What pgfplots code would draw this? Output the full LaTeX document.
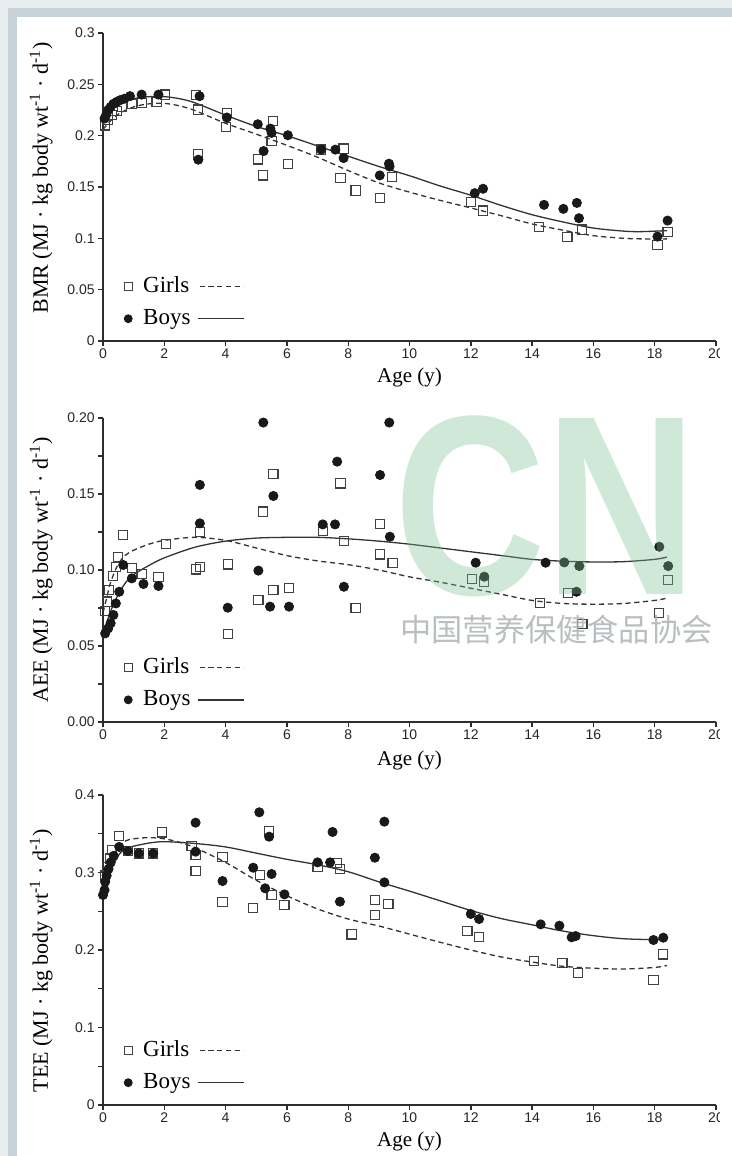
\documentclass[border=0pt]{standalone}
\usepackage{pgfplots}
\pgfplotsset{compat=1.18}
\usepackage{pgfplotstable}
\usepackage{fontspec}
\setmainfont{Liberation Serif}
\setsansfont{Liberation Sans}
\newfontfamily\cjk{Noto Sans CJK SC}
\definecolor{frameband}{RGB}{198,210,214}
\definecolor{framelight}{RGB}{232,238,240}
\definecolor{wmgreen}{RGB}{120,190,145}
\definecolor{wmgray}{RGB}{168,175,177}
\definecolor{ink}{RGB}{25,25,25}
\definecolor{axcol}{RGB}{45,45,45}

% ---------------- BMR ----------------
\pgfplotstableread{
x y
0.07 0.210
0.15 0.215
0.28 0.220
0.45 0.224
0.61 0.228
0.94 0.2307
1.26 0.232
1.75 0.233
2.03 0.240
3.04 0.2395
3.11 0.2254
3.11 0.1818
4.04 0.2222
4.02 0.2085
5.05 0.1769
5.22 0.1613
5.54 0.2144
5.50 0.1948
6.03 0.1727
7.12 0.1864
7.85 0.1874
7.75 0.159
8.24 0.1466
9.03 0.139
9.43 0.1597
12.0 0.1352
12.4 0.127
14.22 0.1108
15.15 0.101
15.62 0.1085
18.09 0.0935
18.42 0.1059
}\bmrgirls
\pgfplotstableread{
x y
0.05 0.2167
0.10 0.220
0.17 0.225
0.25 0.228
0.34 0.231
0.45 0.233
0.56 0.2346
0.70 0.236
0.88 0.2385
1.26 0.240
1.81 0.240
3.15 0.2385
3.11 0.1766
4.04 0.2177
5.05 0.2111
5.24 0.185
5.46 0.2069
5.50 0.2027
6.03 0.2004
7.12 0.1864
7.58 0.1864
7.85 0.1782
9.03 0.1613
9.33 0.1727
9.35 0.170
12.13 0.144
12.4 0.1483
14.39 0.1326
15.02 0.1287
15.46 0.1345
15.53 0.1196
18.09 0.1017
18.42 0.1173
}\bmrboys
\pgfplotstableread{
x y
0 0.206
0.2 0.213
0.5 0.221
1.0 0.228
1.5 0.231
2.0 0.2315
2.5 0.229
3.0 0.2245
4.0 0.212
5.0 0.2015
6.0 0.1906
7.0 0.179
8.0 0.166
9.0 0.154
10.0 0.145
11.0 0.137
12.0 0.1296
13.0 0.122
14.0 0.114
15.0 0.108
16.0 0.1026
17.0 0.1000
17.5 0.0995
18.0 0.0993
18.4 0.0995
}\bmrgirlsfit
\pgfplotstableread{
x y
0 0.214
0.2 0.222
0.5 0.230
1.0 0.236
1.5 0.238
2.0 0.238
2.5 0.236
3.0 0.232
4.0 0.220
5.0 0.209
6.0 0.200
7.0 0.190
8.0 0.180
9.0 0.170
10.0 0.161
11.0 0.151
12.0 0.142
13.0 0.132
14.0 0.123
15.0 0.116
16.0 0.110
17.0 0.107
17.5 0.1065
18.0 0.107
18.4 0.1075
}\bmrboysfit

% ---------------- AEE ----------------
\pgfplotstableread{
x y
0.07 0.0732
0.13 0.0792
0.20 0.0868
0.32 0.096
0.42 0.1022
0.50 0.1083
0.66 0.123
0.94 0.1015
1.26 0.0974
1.81 0.0956
2.06 0.1171
3.03 0.1004
3.16 0.1022
3.16 0.1252
4.07 0.1037
4.07 0.0577
5.07 0.0803
5.23 0.1384
5.56 0.1632
5.56 0.0868
6.07 0.088
7.17 0.1257
7.75 0.157
7.86 0.1191
8.24 0.0748
9.04 0.1303
9.04 0.1103
9.45 0.1044
12.03 0.0939
12.44 0.0923
14.26 0.0785
15.16 0.0851
15.64 0.0645
18.15 0.0715
18.44 0.0934
}\aeegirls
\pgfplotstableread{
x y
0.07 0.0583
0.17 0.0616
0.25 0.065
0.34 0.0704
0.42 0.078
0.53 0.0857
0.66 0.1033
0.94 0.0945
1.32 0.0908
1.81 0.0895
3.16 0.156
3.16 0.1307
4.07 0.0752
5.07 0.0996
5.23 0.197
5.45 0.0759
5.56 0.1487
6.07 0.0759
7.17 0.130
7.57 0.130
7.64 0.1713
7.86 0.089
9.04 0.1625
9.34 0.197
9.36 0.1219
12.16 0.1048
12.44 0.0956
14.44 0.1048
15.05 0.1050
15.45 0.0857
15.54 0.1026
18.15 0.1153
18.44 0.1026
}\aeeboys
\pgfplotstableread{
x y
0 0.072
0.1 0.080
0.25 0.092
0.5 0.104
0.75 0.110
1.0 0.113
1.5 0.117
2.0 0.1195
3.0 0.1215
4.0 0.1195
5.0 0.1145
6.0 0.1095
7.0 0.106
8.0 0.1035
9.0 0.100
10.0 0.0955
11.0 0.092
12.0 0.088
13.0 0.084
14.0 0.080
15.0 0.078
16.0 0.0775
17.0 0.078
18.0 0.080
18.4 0.0815
}\aeegirlsfit
\pgfplotstableread{
x y
0 0.058
0.1 0.064
0.25 0.073
0.5 0.084
0.75 0.092
1.0 0.097
1.5 0.103
2.0 0.108
3.0 0.115
4.0 0.119
5.0 0.121
6.0 0.1215
7.0 0.1215
8.0 0.1205
9.0 0.119
10.0 0.117
11.0 0.1145
12.0 0.112
13.0 0.1095
14.0 0.107
15.0 0.1058
16.0 0.1053
17.0 0.1055
18.0 0.107
18.4 0.1085
}\aeeboysfit

% ---------------- TEE ----------------
\pgfplotstableread{
x y
0.07 0.296
0.12 0.307
0.22 0.318
0.30 0.329
0.53 0.3471
0.81 0.3277
1.17 0.3247
1.64 0.3247
1.92 0.3518
2.89 0.3342
3.02 0.3226
3.02 0.302
3.90 0.3204
3.90 0.2624
4.90 0.2546
5.12 0.2968
5.42 0.354
5.50 0.271
5.92 0.258
7.00 0.3075
7.62 0.3127
7.73 0.3041
8.11 0.2202
8.87 0.2645
8.87 0.2452
9.31 0.259
11.89 0.2245
12.27 0.2164
14.07 0.1858
14.99 0.1828
15.49 0.1699
17.96 0.1613
18.28 0.1944
}\teegirls
\pgfplotstableread{
x y
0.00 0.271
0.05 0.2774
0.07 0.288
0.12 0.296
0.18 0.3045
0.25 0.313
0.35 0.3215
0.53 0.333
0.81 0.3277
1.17 0.3247
1.64 0.3247
3.02 0.3643
3.02 0.3269
3.90 0.289
4.90 0.3062
5.10 0.3777
5.29 0.2796
5.42 0.3462
5.50 0.2981
5.92 0.2718
7.00 0.3131
7.41 0.3131
7.49 0.3523
7.73 0.2624
8.87 0.3191
9.18 0.3656
9.18 0.2873
12.00 0.2465
12.27 0.240
14.28 0.2331
14.89 0.2314
15.29 0.2164
15.42 0.218
17.96 0.2129
18.28 0.2159
}\teeboys
\pgfplotstableread{
x y
0 0.280
0.1 0.294
0.25 0.312
0.5 0.333
0.75 0.341
1.0 0.3435
1.5 0.345
2.0 0.3435
2.5 0.339
3.0 0.332
4.0 0.313
5.0 0.290
6.0 0.270
7.0 0.253
8.0 0.240
9.0 0.231
10.0 0.2205
11.0 0.210
12.0 0.200
13.0 0.191
14.0 0.1845
15.0 0.179
16.0 0.1765
17.0 0.1755
18.0 0.1775
18.4 0.180
}\teegirlsfit
\pgfplotstableread{
x y
0 0.272
0.1 0.285
0.25 0.302
0.5 0.322
0.75 0.331
1.0 0.334
1.5 0.338
2.0 0.3398
3.0 0.3375
4.0 0.333
5.0 0.325
6.0 0.317
7.0 0.310
8.0 0.301
9.0 0.288
10.0 0.276
11.0 0.2635
12.0 0.251
13.0 0.2405
14.0 0.2325
15.0 0.2245
16.0 0.2185
17.0 0.2145
18.0 0.2135
18.4 0.215
}\teeboysfit

\pgfplotsset{
  panel/.style={
    scale only axis, width=306.5pt,
    xmin=0, xmax=20, xtick={0,2,...,20},
    axis lines*=left,
    axis line style={line width=0.7pt, draw=axcol},
    tick style={line width=0.7pt, draw=axcol},
    tick align=outside,
    major tick length=2.5pt, minor tick length=2.5pt,
    scaled y ticks=false,
    /pgf/number format/assume math mode=true,
    tick label style={font=\sffamily\fontsize{7}{8}\selectfont, text=black!85},
    xticklabel style={inner sep=1.2pt},
    yticklabel style={inner sep=1.5pt},
    xlabel={Age (y)},
    xlabel style={font=\fontsize{10.5}{12}\selectfont, anchor=center},
    ylabel style={font=\fontsize{11}{12}\selectfont, anchor=center},
    legend columns=2,
    legend cell align=left,
    legend style={draw=none, fill=none, inner sep=0pt, outer sep=0pt,
      at={(axis description cs:0.033,0.03)}, anchor=south west,
      font=\fontsize{11.5}{13}\selectfont, row sep=3pt, column sep=0pt,
      nodes={inner sep=2pt}},
  },
  girlpts/.style={only marks, mark=square, mark size=2.3pt,
    mark options={draw=black!75, line width=0.55pt},
    legend image code/.code={\path[draw=none, fill=none] (0pt,0pt) -- (8pt,0pt);\draw[##1, mark size=2pt] plot coordinates {(2.5pt,0pt)};}},
  boypts/.style={only marks, mark=*, mark size=2.3pt,
    mark options={draw=ink, fill=ink},
    legend image code/.code={\path[draw=none, fill=none] (0pt,0pt) -- (8pt,0pt);\draw[##1, mark size=2pt] plot coordinates {(2.5pt,0pt)};}},
  girlline/.style={no marks, smooth, line width=0.65pt, draw=black!80, dash pattern=on 2.6pt off 1.8pt,
    legend image code/.code={\path[draw=none, fill=none] (0pt,0pt) -- (25pt,0pt);\draw[##1] (2.5pt,0pt) -- (24.5pt,0pt);}},
  boyline/.style={no marks, smooth, line width=0.65pt, draw=black!80,
    legend image code/.code={\path[draw=none, fill=none] (0pt,0pt) -- (25pt,0pt);\draw[##1] (1.5pt,0pt) -- (24.5pt,0pt);}},
}

\begin{document}
\begin{tikzpicture}
\useasboundingbox (0pt,0pt) rectangle (366pt,-578pt);
% frame
\fill[framelight] (0pt,0pt) rectangle (366pt,-578pt);
\fill[frameband] (4pt,-4pt) rectangle (366pt,-578pt);
\fill[white] (8.5pt,-8.5pt) rectangle (366pt,-578pt);

% ---------- panel 1 ----------
\begin{axis}[panel, at={(51.5pt,-170.5pt)}, anchor=south west, height=154pt,
  ymin=0, ymax=0.3, ytick={0,0.05,0.1,0.15,0.2,0.25,0.3},
  yticklabel style={/pgf/number format/.cd, fixed, precision=2},
  xlabel style={at={(axis description cs:0.5,-0.117)}},
  ylabel style={at={(axis description cs:-0.101,0.53)}},
  ylabel={BMR (MJ · kg body wt\textsuperscript{-1} · d\textsuperscript{-1})}]
\addplot[girlpts] table {\bmrgirls};
\addlegendentry{Girls}
\addplot[girlline] table {\bmrgirlsfit};
\addlegendentry{\mbox{}}
\addplot[boypts] table {\bmrboys};
\addlegendentry{Boys}
\addplot[boyline] table {\bmrboysfit};
\addlegendentry{\mbox{}}
\end{axis}

% ---------- panel 2 ----------
\begin{axis}[panel, at={(51.5pt,-361pt)}, anchor=south west, height=152pt,
  ymin=0, ymax=0.2, ytick={0,0.05,0.1,0.15,0.2},
  minor ytick={0.025,0.075,0.125,0.175},
  yticklabel style={/pgf/number format/.cd, fixed, fixed zerofill, precision=2},
  xlabel style={at={(axis description cs:0.5,-0.125)}},
  ylabel style={at={(axis description cs:-0.101,0.5)}},
  ylabel={AEE (MJ · kg body wt\textsuperscript{-1} · d\textsuperscript{-1})}]
\addplot[girlpts] table {\aeegirls};
\addlegendentry{Girls}
\addplot[girlline] table {\aeegirlsfit};
\addlegendentry{\mbox{}}
\addplot[boypts] table {\aeeboys};
\addlegendentry{Boys}
\addplot[boyline] table {\aeeboysfit};
\addlegendentry{\mbox{}}
\end{axis}

% ---------- panel 3 ----------
\begin{axis}[panel, at={(51.5pt,-552.5pt)}, anchor=south west, height=155pt,
  ymin=0, ymax=0.4, ytick={0,0.1,0.2,0.3,0.4},
  minor ytick={0.05,0.15,0.25,0.35},
  yticklabel style={/pgf/number format/.cd, fixed, precision=1},
  xlabel style={at={(axis description cs:0.5,-0.117)}},
  ylabel style={at={(axis description cs:-0.101,0.465)}},
  ylabel={TEE (MJ · kg body wt\textsuperscript{-1} · d\textsuperscript{-1})}]
\addplot[girlpts] table {\teegirls};
\addlegendentry{Girls}
\addplot[girlline] table {\teegirlsfit};
\addlegendentry{\mbox{}}
\addplot[boypts] table {\teeboys};
\addlegendentry{Boys}
\addplot[boyline] table {\teeboysfit};
\addlegendentry{\mbox{}}
\end{axis}

% right edge of the scanned figure (cuts the "20" labels)
\fill[white] (360pt,-8.5pt) rectangle (366pt,-578pt);

% watermark
\begin{scope}
\clip (0pt,0pt) rectangle (366pt,-578pt);
\node[anchor=base west, inner sep=0pt, text=wmgreen, opacity=0.35, xscale=0.82,
  font=\sffamily\bfseries\fontsize{128}{128}\selectfont] at (197pt,-297pt) {CN};
\node[anchor=west, inner sep=0pt, text=wmgray, opacity=0.8,
  font=\cjk\fontsize{15.6}{16}\selectfont] at (200pt,-315pt) {中国营养保健食品协会};
\end{scope}
\end{tikzpicture}
\end{document}
